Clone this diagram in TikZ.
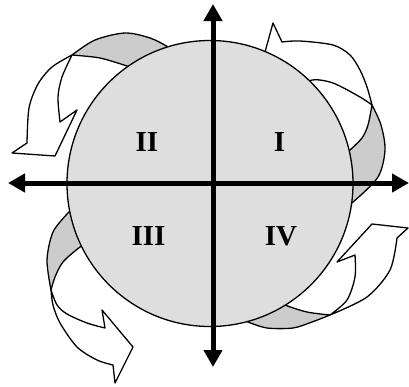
\documentclass[tikz,border=0pt]{standalone}
\usepackage{fontspec}
\setmainfont{Liberation Serif}
\usetikzlibrary{arrows.meta}
\definecolor{circfill}{gray}{0.87}
\definecolor{bandfill}{gray}{0.80}
\begin{document}
\begin{tikzpicture}[x=1pt,y=-1pt, line join=round,
  band/.style={fill=bandfill, draw=black, line width=1.3pt},
  front/.style={fill=white, draw=black, line width=1.3pt},
  axis/.style={line width=5pt, >={Triangle[length=17pt,width=18pt]}, <->},
  quad/.style={font=\fontsize{29}{29}\selectfont\bfseries, inner sep=0pt}]
\useasboundingbox (0,0) rectangle (409,386);

% top-left arrow
\path[band] plot[smooth] coordinates {(72,55) (95,40) (125,33) (150,38) (168,47) (182,58)} -- (140,74) -- plot[smooth] coordinates {(127,66) (100,58) (72,55)} -- cycle;
\path[front] plot[smooth] coordinates {(72,55) (52,67) (38,84) (29,108) (27,143)} -- (12,153) -- (55,156) -- (77,110) -- plot[smooth] coordinates {(60,122) (58,97) (62,77) (72,55)} -- cycle;

% top-right arrow
\path[band] plot[smooth] coordinates {(372,105) (381,125) (385,150) (378,177) (353,202) (338,211)} -- (338,158) -- plot[smooth] coordinates {(350,150) (362,138) (368,125) (372,105)} -- cycle;
\path[front] plot[smooth] coordinates {(372,105) (367,87) (360,70) (350,55) (333,45) (300,41) (282,42)} -- (273,23) -- (265,52) -- (285,78) -- plot[smooth] coordinates {(300,90) (312,80) (333,83) (360,97) (372,105)} -- cycle;

% bottom-left arrow
\path[band] (80,202) -- plot[smooth] coordinates {(68,213) (53,232) (47,260) (51,290)} -- plot[smooth] coordinates {(51,290) (55,277) (63,262) (80,247) (92,240)} -- cycle;
\path[front] plot[smooth] coordinates {(51,290) (57,305) (67,314) (87,323) (105,328)} -- (102,310) -- (133,347) -- (115,383) -- plot[smooth] coordinates {(113,365) (97,360) (77,347) (60,323) (53,305) (51,290)} -- cycle;

% bottom-right arrow
\path[band] (240,316) -- plot[smooth] coordinates {(248,322) (267,328) (293,328) (312,322) (330,315)} -- plot[smooth] coordinates {(330,315) (307,312) (285,305) (272,298)} -- cycle;
\path[front] plot[smooth] coordinates {(330,315) (347,300) (355,277) (355,255)} -- (337,262) -- (372,224) -- (408,228) -- plot[smooth] coordinates {(397,238) (390,270) (367,297) (330,315)} -- cycle;

% disc
\node (disc) [circle, minimum size=286pt, inner sep=0pt, fill=circfill, draw=black, line width=1.3pt] at (210,183.5) {};

% axes
\coordinate (W) at (8,183);
\coordinate (E) at (409,183);
\coordinate (N) at (213,4);
\coordinate (S) at (213,367);
\draw[axis] (W) -- (E);
\draw[axis] (N) -- (S);

% labels
\node[quad] (q1) at (279.5,142) {I};
\node[quad] (q2) at (147,142) {II};
\node[quad] (q3) at (148.5,236) {III};
\node[quad] (q4) at (281,236) {IV};
\end{tikzpicture}
\end{document}
